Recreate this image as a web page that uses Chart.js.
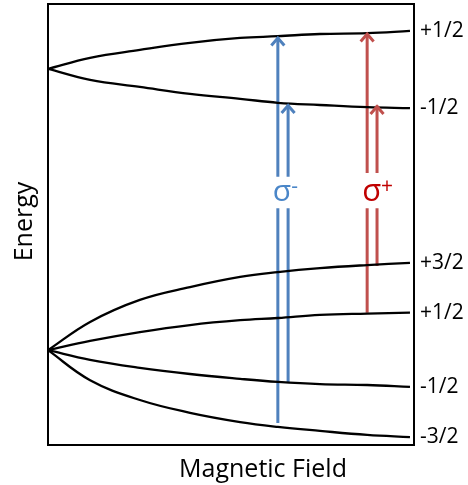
<!DOCTYPE html>
<html>
<head>
<meta charset="utf-8">
<script src="https://cdn.jsdelivr.net/npm/chart.js@4"></script>
<style>
  html, body { margin: 0; padding: 0; background: #fff; }
</style>
</head>
<body>
<canvas id="zeemanChart" width="468" height="485"></canvas>
<script>
// Field samples (arbitrary units) and energy of each sub-level
const field = [0, 1.15, 2.51, 3.88, 5.25, 6.28, 7.43, 8.72, 9.89];
const upperPlusHalf = [8.53, 8.78, 8.96, 9.12, 9.23, 9.27, 9.32, 9.34, 9.39];
const upperMinusHalf = [8.53, 8.28, 8.12, 7.96, 7.85, 7.76, 7.71, 7.66, 7.64];
const lowerPlus3Half = [2.15, 2.79, 3.29, 3.58, 3.81, 3.92, 4.01, 4.08, 4.13];
const lowerPlusHalf = [2.15, 2.36, 2.56, 2.72, 2.83, 2.88, 2.95, 2.98, 3.00];
const lowerMinusHalf = [2.15, 1.93, 1.75, 1.61, 1.50, 1.43, 1.38, 1.36, 1.32];
const lowerMinus3Half = [2.15, 1.47, 1.02, 0.73, 0.52, 0.41, 0.32, 0.23, 0.18];

const levels = [upperPlusHalf, upperMinusHalf, lowerPlus3Half, lowerPlusHalf, lowerMinusHalf, lowerMinus3Half];
const levelLabels = ['+1/2', '-1/2', '+3/2', '+1/2', '-1/2', '-3/2'];

// Transitions: field position, start energy, end energy
const arrowField = [6.28, 6.56, 8.72, 8.99];
const arrowFrom = [0.50, 1.43, 3.00, 4.06];
const arrowTo = [9.25, 7.72, 9.34, 7.70];
const arrowKind = ['minus', 'minus', 'plus', 'plus'];
const labelGap = { minus: [5.37, 6.08], plus: [5.37, 6.17] };

const sigmaText = { minus: ['σ', '-'], plus: ['σ', '+'] };
const sigmaBase = 5.53;

const xTitle = 'Magnetic Field';
const yTitle = 'Energy';

const arrowColor = { minus: '#4f81bd', plus: '#c0504d' };
const sigmaColor = { minus: '#4a86c8', plus: '#c00000' };

const FONT = "'Open Sans', sans-serif";

const datasets = levels.map(vals => ({
  type: 'line',
  data: field.map((f, i) => ({ x: f, y: vals[i] })),
  borderColor: '#000',
  borderWidth: 2.3,
  pointRadius: 0,
  tension: 0.4,
  fill: false
}));

arrowField.forEach((f, i) => {
  const gap = labelGap[arrowKind[i]];
  datasets.push({
    type: 'line',
    isArrow: true,
    data: [
      { x: f, y: arrowFrom[i] },
      { x: f, y: gap[0] },
      { x: f, y: null },
      { x: f, y: gap[1] },
      { x: f, y: arrowTo[i] }
    ],
    borderColor: arrowColor[arrowKind[i]],
    borderWidth: 3,
    pointRadius: 0,
    tension: 0,
    spanGaps: false,
    fill: false
  });
});

const framePlugin = {
  id: 'frame',
  afterDatasetsDraw(chart) {
    const { ctx, chartArea: a, scales } = chart;
    ctx.save();
    // arrow heads
    chart.data.datasets.forEach((ds, i) => {
      if (!ds.isArrow) return;
      const pts = chart.getDatasetMeta(i).data;
      const tip = pts[pts.length - 1];
      ctx.strokeStyle = ds.borderColor;
      ctx.lineWidth = 3;
      ctx.beginPath();
      ctx.moveTo(tip.x - 6.5, tip.y + 8.5);
      ctx.lineTo(tip.x, tip.y + 1);
      ctx.lineTo(tip.x + 6.5, tip.y + 8.5);
      ctx.stroke();
    });
    // frame
    ctx.strokeStyle = '#000';
    ctx.lineWidth = 2;
    ctx.strokeRect(a.left, a.top, a.right - a.left, a.bottom - a.top);

    // sigma labels
    const x = scales.x, y = scales.y;
    ['minus', 'plus'].forEach(kind => {
      const idx = arrowKind.indexOf(kind);
      const left = x.getPixelForValue(arrowField[idx]) - 5;
      const base = y.getPixelForValue(sigmaBase);
      ctx.fillStyle = sigmaColor[kind];
      ctx.textBaseline = 'alphabetic';
      ctx.textAlign = 'left';
      ctx.font = (kind === 'plus' ? '31px ' : '30px ') + FONT;
      ctx.fillText(sigmaText[kind][0], left, base);
      const w = ctx.measureText(sigmaText[kind][0]).width;
      ctx.font = '21px ' + FONT;
      ctx.fillText(sigmaText[kind][1], left + w, base - 8);
    });

    // axis titles
    ctx.fillStyle = '#000';
    ctx.font = '25px ' + FONT;
    ctx.textAlign = 'center';
    ctx.fillText(xTitle, 263, 477);
    ctx.save();
    ctx.translate(32, (a.top + a.bottom) / 2 - 3);
    ctx.rotate(-Math.PI / 2);
    ctx.fillText(yTitle, 0, 0);
    ctx.restore();
    ctx.restore();
  }
};

new Chart(document.getElementById('zeemanChart'), {
  type: 'line',
  data: { datasets },
  options: {
    responsive: false,
    animation: false,
    layout: { padding: { top: 4, left: 0, right: 0, bottom: 0 } },
    plugins: {
      legend: { display: false },
      tooltip: { enabled: false }
    },
    scales: {
      x: {
        type: 'linear',
        min: 0,
        max: 10,
        ticks: { display: false },
        grid: { display: false, drawTicks: false },
        border: { display: false },
        afterFit(scale) { scale.height = 40; scale.paddingLeft = 0; scale.paddingRight = 0; }
      },
      y: {
        type: 'linear',
        min: 0,
        max: 10,
        ticks: { display: false },
        grid: { display: false, drawTicks: false },
        border: { display: false },
        afterFit(scale) { scale.width = 48; scale.paddingTop = 0; scale.paddingBottom = 0; }
      },
      levels: {
        type: 'linear',
        position: 'right',
        min: 0,
        max: 10,
        afterBuildTicks(scale) {
          scale.ticks = levels.map(v => ({ value: v[v.length - 1] }));
        },
        ticks: {
          padding: 6,
          color: '#000',
          font: { family: FONT, size: 21 },
          callback: (value, index) => levelLabels[index]
        },
        grid: { display: false, drawTicks: false },
        border: { display: false },
        afterFit(scale) { scale.width = 54; scale.paddingTop = 0; scale.paddingBottom = 0; }
      }
    }
  },
  plugins: [framePlugin]
});
</script>
</body>
</html>
